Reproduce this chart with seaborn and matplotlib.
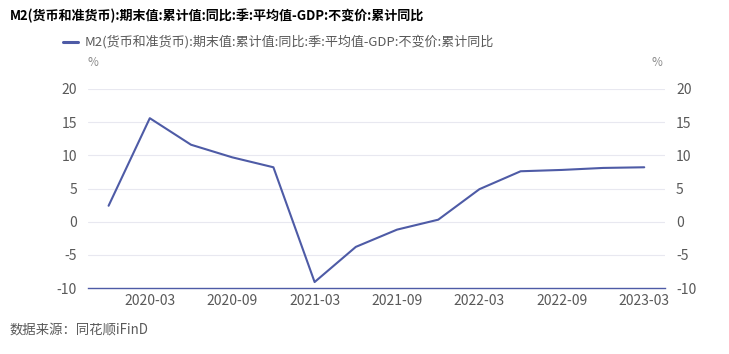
import matplotlib.pyplot as plt
import pandas as pd
import seaborn as sns

sns.set_theme(style="white")
plt.rcParams['font.family'] = ['Noto Sans CJK SC', 'DejaVu Sans']

quarters = ["2019-12", "2020-03", "2020-06", "2020-09", "2020-12", "2021-03", "2021-06",
            "2021-09", "2021-12", "2022-03", "2022-06", "2022-09", "2022-12", "2023-03"]
values = [2.4, 15.6, 11.6, 9.7, 8.2, -9.1, -3.8, -1.2, 0.3, 4.9, 7.6, 7.8, 8.1, 8.2]
series_name = "M2(货币和准货币):期末值:累计值:同比:季:平均值-GDP:不变价:累计同比"
yticks = [-10, -5, 0, 5, 10, 15, 20]

df = pd.DataFrame({'idx': range(len(quarters)), 'quarter': quarters, 'value': values})

line_color = '#4E5BA6'
text_color = '#595959'

fig = plt.figure(figsize=(7.29, 3.54), dpi=100)
ax = fig.add_axes([0.1207, 0.1864, 0.912 - 0.1207, 0.7486 - 0.1864])

sns.lineplot(data=df, x='idx', y='value', ax=ax, color=line_color, linewidth=1.5, legend=False)

ax.set_xlim(-0.5, len(quarters) - 0.5)
ax.set_ylim(-10, 20)
ax.set_yticks(yticks)
ax.set_yticklabels([str(v) for v in yticks])
tick_idx = list(range(1, len(quarters), 2))
ax.set_xticks(tick_idx)
ax.set_xticklabels([quarters[i] for i in tick_idx])
ax.tick_params(axis='both', length=0, labelsize=10, colors=text_color)
ax.tick_params(axis='y', labelright=True, right=False, pad=8)
ax.tick_params(axis='x', pad=4)
ax.set_xlabel('')
ax.set_ylabel('')

for y in yticks[1:]:
    ax.axhline(y, color='#E8E8F0', linewidth=0.8, zorder=0)
for s in ['top', 'left', 'right']:
    ax.spines[s].set_visible(False)
ax.spines['bottom'].set_color(line_color)
ax.spines['bottom'].set_linewidth(1.0)

fig.text(10 / 729, 0.955, series_name, fontsize=9.4, fontweight='bold', color='black', va='center')
fig.lines.append(plt.Line2D([63 / 729, 78 / 729], [1 - 42 / 354] * 2, color=line_color,
                            linewidth=2.2, transform=fig.transFigure))
fig.text(85 / 729, 1 - 42 / 354, series_name, fontsize=9.4, color=text_color, va='center')
fig.text(93 / 729, 1 - 63 / 354, '%', fontsize=8.5, color='#8C8C8C', va='center', ha='center')
fig.text(657 / 729, 1 - 63 / 354, '%', fontsize=8.5, color='#8C8C8C', va='center', ha='center')
fig.text(10 / 729, 1 - 330 / 354, '数据来源：同花顺iFinD', fontsize=9.6, color=text_color, va='center')

fig.savefig('out.png', dpi=100)
